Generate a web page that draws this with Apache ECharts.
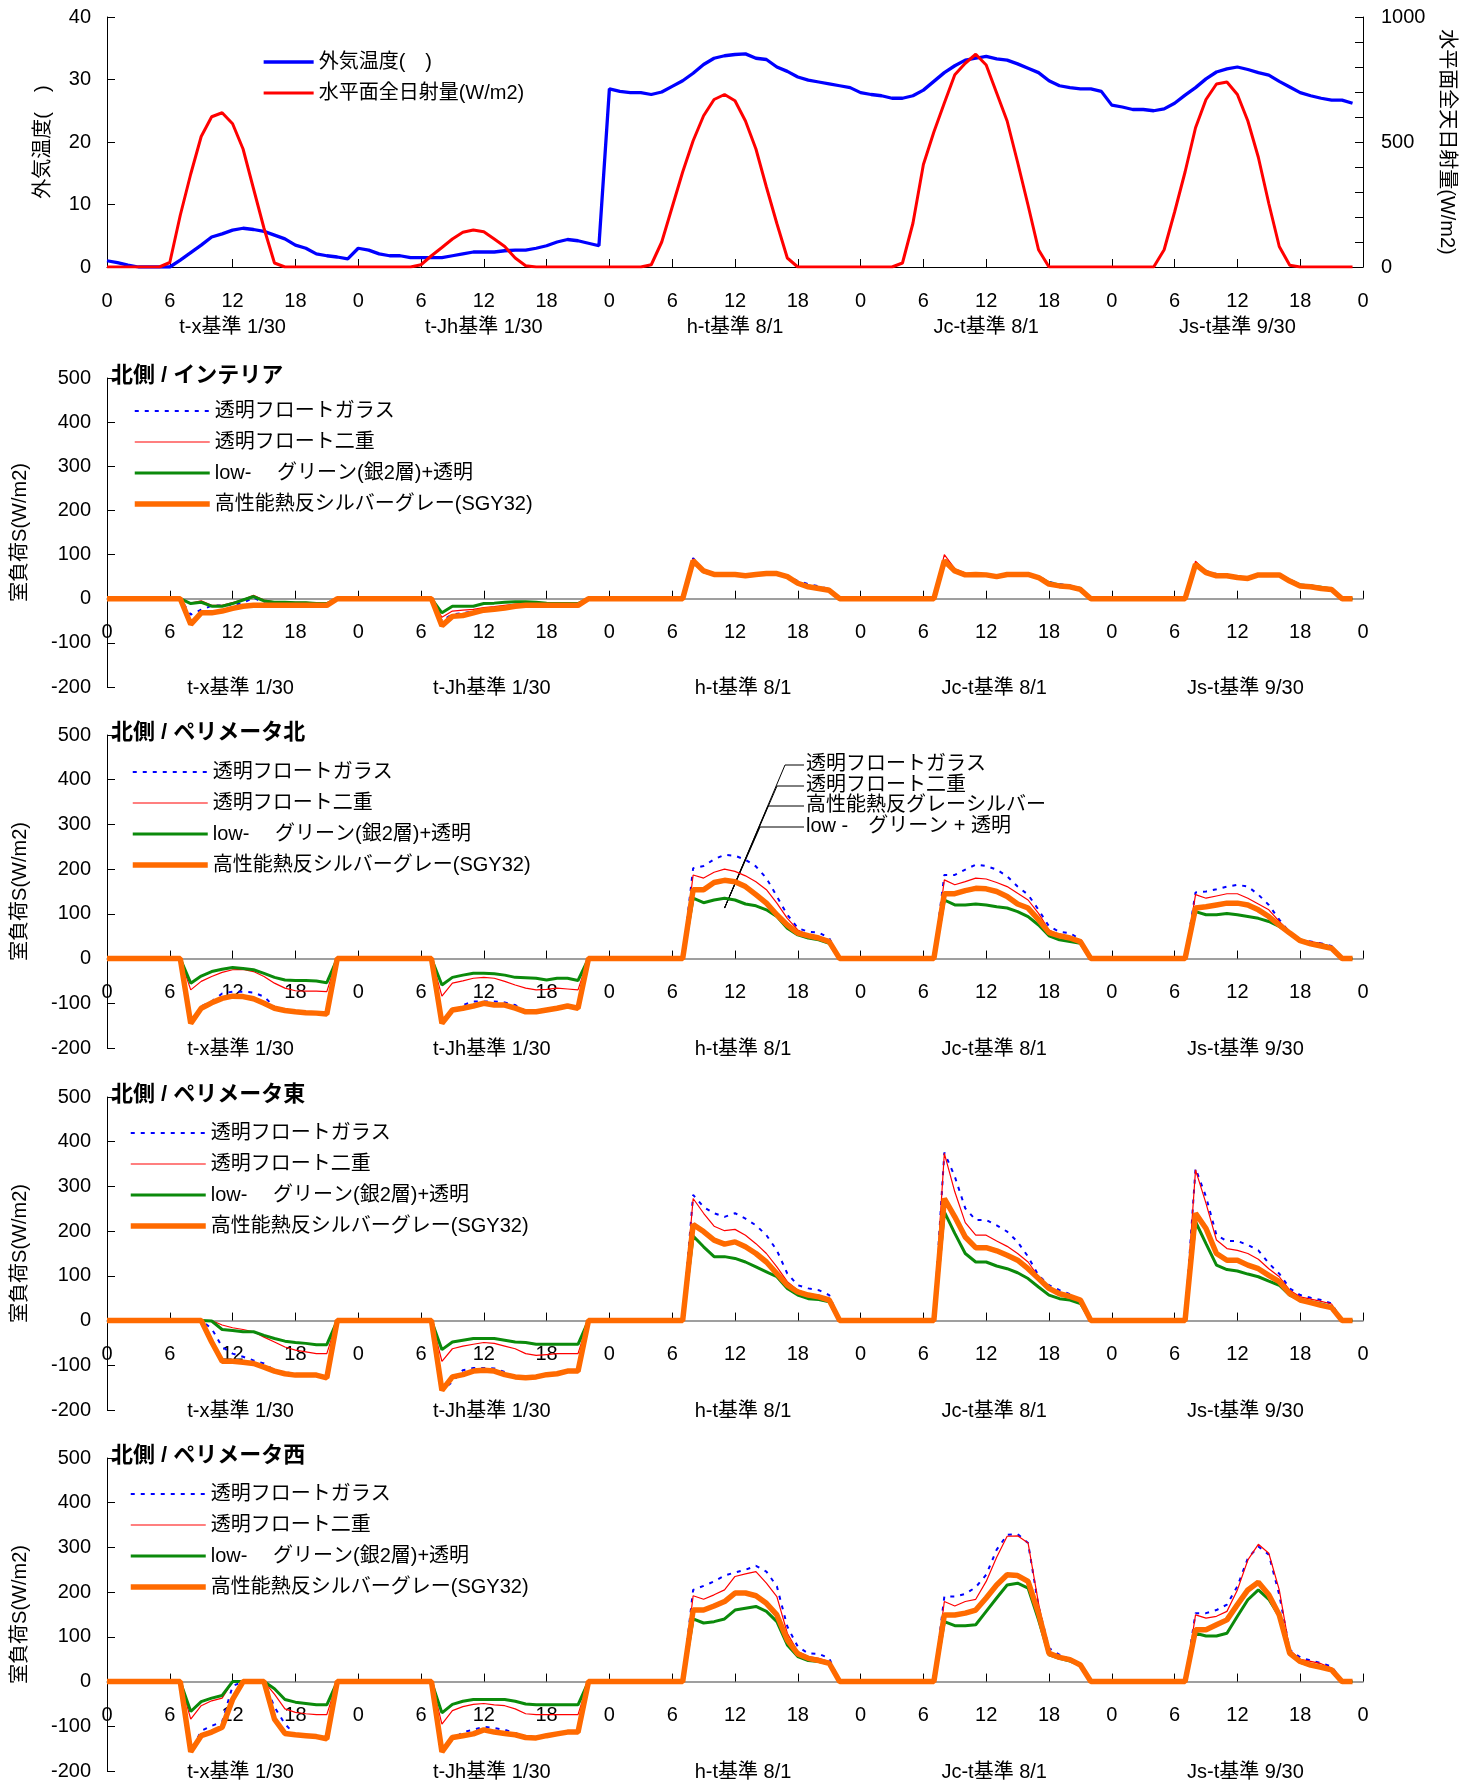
<!DOCTYPE html>
<html><head><meta charset="utf-8">
<script src="https://cdn.jsdelivr.net/npm/echarts@6/dist/echarts.min.js"></script>
<style>html,body{margin:0;padding:0;background:#fff}#c{width:1472px;height:1787px}</style>
</head><body><div id="c"></div>
<script>
// ---------- tick labels / categories ----------
const HOUR_TICK_LABELS = ['0','6','12','18'];
const DAY_LABELS = ['t-x基準 1/30','t-Jh基準 1/30','h-t基準 8/1','Jc-t基準 8/1','Js-t基準 9/30'];
const PANEL_TITLES = ['北側 / インテリア','北側 / ペリメータ北','北側 / ペリメータ東','北側 / ペリメータ西'];
const GLASS_NAMES = ['透明フロートガラス','透明フロート二重','low-　 グリーン(銀2層)+透明','高性能熱反シルバーグレー(SGY32)'];
const TOP_NAMES = ['外気温度(　)','水平面全日射量(W/m2)'];
const ANNOT_LABELS = ['透明フロートガラス','透明フロート二重','高性能熱反グレーシルバー','low -　グリーン + 透明'];

// ---------- top chart ----------
const TEMP = [
 1.0,0.7,0.3,0,0,0,0,1.1,2.3,3.5,4.8,5.3,5.9,6.2,6.0,5.7,5.1,4.5,3.5,3.0,2.1,1.8,1.6,1.3,
 3.0,2.7,2.1,1.8,1.8,1.5,1.5,1.5,1.5,1.8,2.1,2.4,2.4,2.4,2.6,2.7,2.7,3.0,3.4,4.0,4.4,4.2,3.8,3.4,
 28.5,28.1,27.9,27.9,27.6,28.0,28.9,29.8,31.0,32.4,33.4,33.8,34.0,34.1,33.4,33.2,32.0,31.3,30.4,29.9,29.6,29.3,29.0,28.7,
 27.9,27.6,27.4,27.0,27.0,27.4,28.3,29.7,31.1,32.2,33.1,33.4,33.7,33.3,33.1,32.5,31.8,31.1,29.8,29.0,28.7,28.5,28.5,28.1,
 25.9,25.6,25.2,25.2,25.0,25.3,26.2,27.5,28.7,30.1,31.2,31.7,32.0,31.6,31.1,30.7,29.7,28.8,27.9,27.4,27.0,26.7,26.7,26.2
];
const SOLAR = [
 0,0,0,0,0,0,18,207,372,522,601,617,573,472,313,155,16,0,0,0,0,0,0,0,
 0,0,0,0,0,0,9,45,78,112,139,148,141,112,82,36,5,0,0,0,0,0,0,0,
 0,0,0,0,9,100,240,380,505,605,670,690,665,584,472,320,174,36,0,0,0,0,0,0,
 0,0,0,0,16,175,410,540,656,769,815,851,808,696,584,419,247,69,0,0,0,0,0,0,
 0,0,0,0,0,69,220,380,557,670,732,740,690,584,439,254,82,7,0,0,0,0,0,0
];

// ---------- 北側 / インテリア ----------
const INT_CLEAR = [
 0,0,0,0,0,0,0,0,-36,-25,-16,-15,-14,-10,3,-10,-13,-14,-14,-14,-15,-15,0,0,
 0,0,0,0,0,0,0,0,-50,-35,-33,-28,-24,-22,-19,-15,-14,-14,-14,-14,-14,-14,0,0,
 0,0,0,0,0,0,0,0,92,65,57,57,57,53,56,57,57,52,40,33,28,22,0,0,
 0,0,0,0,0,0,0,0,92,66,57,56,55,51,56,56,56,51,38,33,30,24,0,0,
 0,0,0,0,0,0,0,0,82,63,56,53,49,47,55,55,55,43,32,30,26,23,0,0
];
const INT_DOUBLE = [
 0,0,0,0,0,0,0,0,-10,-5,-15,-15,-9,-2,8,-3,-7,-7,-8,-8,-10,-10,0,0,
 0,0,0,0,0,0,0,0,-42,-28,-26,-24,-20,-18,-15,-12,-11,-12,-13,-13,-13,-13,0,0,
 0,0,0,0,0,0,0,0,90,65,57,56,56,53,56,57,57,51,38,30,26,21,0,0,
 0,0,0,0,0,0,0,0,100,68,58,57,56,52,56,56,56,50,36,32,28,23,0,0,
 0,0,0,0,0,0,0,0,85,62,55,53,50,48,55,55,55,42,31,29,25,22,0,0
];
const INT_LOWE = [
 0,0,0,0,0,0,0,0,-11,-8,-17,-17,-11,-3,5,-5,-8,-8,-9,-9,-11,-11,0,0,
 0,0,0,0,0,0,0,0,-32,-17,-17,-17,-11,-10,-8,-7,-7,-8,-10,-11,-11,-11,0,0,
 0,0,0,0,0,0,0,0,84,61,54,54,54,51,54,56,56,49,36,29,25,21,0,0,
 0,0,0,0,0,0,0,0,84,62,55,55,54,51,55,55,55,49,36,31,28,23,0,0,
 0,0,0,0,0,0,0,0,76,58,53,52,49,47,54,54,54,42,31,29,26,22,0,0
];
const INT_SGY = [
 0,0,0,0,0,0,0,0,-58,-32,-32,-28,-22,-17,-15,-15,-15,-15,-15,-15,-15,-15,0,0,
 0,0,0,0,0,0,0,0,-61,-40,-38,-32,-26,-24,-21,-17,-15,-15,-15,-15,-15,-15,0,0,
 0,0,0,0,0,0,0,0,86,63,55,55,55,52,55,57,57,50,35,27,23,19,0,0,
 0,0,0,0,0,0,0,0,86,63,54,55,54,50,55,55,55,48,33,29,27,21,0,0,
 0,0,0,0,0,0,0,0,78,59,52,52,48,46,54,54,54,40,29,27,23,21,0,0
];

// ---------- 北側 / ペリメータ北 ----------
const PN_CLEAR = [
 0,0,0,0,0,0,0,0,-145,-107,-96,-78,-74,-74,-76,-85,-108,-115,-119,-121,-122,-124,0,0,
 0,0,0,0,0,0,0,0,-145,-120,-104,-96,-96,-96,-98,-104,-117,-119,-115,-111,-106,-111,0,0,
 0,0,0,0,0,0,0,0,202,207,222,232,230,221,206,180,139,98,68,60,58,46,0,0,
 0,0,0,0,0,0,0,0,187,187,199,210,207,199,184,161,143,109,72,60,57,43,0,0,
 0,0,0,0,0,0,0,0,148,150,155,161,165,161,143,120,87,58,42,38,34,28,0,0
];
const PN_DOUBLE = [
 0,0,0,0,0,0,0,0,-70,-51,-40,-31,-25,-24,-29,-40,-55,-66,-72,-73,-73,-74,0,0,
 0,0,0,0,0,0,0,0,-84,-55,-50,-44,-42,-44,-51,-59,-66,-70,-69,-66,-68,-70,0,0,
 0,0,0,0,0,0,0,0,187,180,193,200,195,185,172,154,124,90,64,53,49,42,0,0,
 0,0,0,0,0,0,0,0,176,165,172,180,178,170,161,146,131,101,64,53,48,42,0,0,
 0,0,0,0,0,0,0,0,143,135,140,145,145,135,122,109,83,60,42,38,34,27,0,0
];
const PN_LOWE = [
 0,0,0,0,0,0,0,0,-55,-39,-29,-24,-20,-22,-25,-33,-42,-48,-49,-49,-50,-54,0,0,
 0,0,0,0,0,0,0,0,-59,-42,-37,-33,-33,-34,-37,-42,-43,-44,-48,-44,-44,-49,0,0,
 0,0,0,0,0,0,0,0,135,125,131,135,131,122,118,109,94,68,53,46,42,34,0,0,
 0,0,0,0,0,0,0,0,131,120,120,122,120,116,113,105,94,75,51,42,38,34,0,0,
 0,0,0,0,0,0,0,0,105,98,98,101,98,94,90,83,72,57,42,34,31,25,0,0
];
const PN_SGY = [
 0,0,0,0,0,0,0,0,-145,-111,-99,-89,-84,-85,-90,-100,-111,-116,-119,-121,-122,-124,0,0,
 0,0,0,0,0,0,0,0,-145,-115,-111,-106,-100,-104,-104,-111,-119,-119,-115,-111,-106,-111,0,0,
 0,0,0,0,0,0,0,0,154,154,170,175,172,161,143,124,98,75,57,51,46,38,0,0,
 0,0,0,0,0,0,0,0,145,145,152,157,156,150,139,122,113,87,58,51,46,38,0,0,
 0,0,0,0,0,0,0,0,113,116,120,124,124,120,109,94,75,57,40,33,28,23,0,0
];

// ---------- 北側 / ペリメータ東 ----------
const PE_CLEAR = [
 0,0,0,0,0,0,0,0,0,0,-18,-59,-74,-81,-89,-96,-111,-116,-119,-122,-122,-128,0,0,
 0,0,0,0,0,0,0,0,-156,-137,-111,-106,-106,-107,-115,-126,-128,-126,-121,-119,-113,-113,0,0,
 0,0,0,0,0,0,0,0,281,254,240,232,240,228,213,191,157,105,79,72,68,57,0,0,
 0,0,0,0,0,0,0,0,376,322,251,225,225,213,199,176,143,101,79,68,59,42,0,0,
 0,0,0,0,0,0,0,0,340,277,191,178,178,169,157,128,105,72,57,51,46,38,0,0
];
const PE_DOUBLE = [
 0,0,0,0,0,0,0,0,0,0,0,-10,-16,-20,-25,-37,-48,-59,-66,-70,-74,-74,0,0,
 0,0,0,0,0,0,0,0,-91,-63,-57,-53,-49,-51,-57,-63,-74,-78,-76,-74,-74,-74,0,0,
 0,0,0,0,0,0,0,0,273,240,211,201,204,191,172,150,120,87,68,60,57,46,0,0,
 0,0,0,0,0,0,0,0,374,288,219,191,191,178,166,150,131,98,72,60,53,46,0,0,
 0,0,0,0,0,0,0,0,337,262,180,161,157,150,137,116,98,68,53,48,43,37,0,0
];
const PE_LOWE = [
 0,0,0,0,0,0,0,0,0,0,-1,-20,-22,-25,-25,-33,-40,-46,-49,-51,-54,-54,0,0,
 0,0,0,0,0,0,0,0,-65,-48,-44,-40,-40,-40,-44,-48,-49,-53,-53,-53,-53,-53,0,0,
 0,0,0,0,0,0,0,0,189,165,143,143,139,131,120,109,98,72,57,49,47,42,0,0,
 0,0,0,0,0,0,0,0,243,195,150,131,131,122,116,107,94,75,57,49,46,38,0,0,
 0,0,0,0,0,0,0,0,221,172,124,114,111,104,98,88,79,57,46,42,37,31,0,0
];
const PE_SGY = [
 0,0,0,0,0,0,0,0,0,0,-48,-91,-91,-93,-96,-104,-113,-119,-122,-122,-122,-128,0,0,
 0,0,0,0,0,0,0,0,-156,-126,-121,-113,-111,-113,-121,-126,-128,-126,-121,-119,-113,-113,0,0,
 0,0,0,0,0,0,0,0,215,199,180,171,176,165,150,131,105,79,64,57,53,46,0,0,
 0,0,0,0,0,0,0,0,273,232,187,163,163,156,146,135,116,94,72,60,54,46,0,0,
 0,0,0,0,0,0,0,0,240,206,150,135,135,124,116,101,87,60,46,40,34,29,0,0
];

// ---------- 北側 / ペリメータ西 ----------
const PW_CLEAR = [
 0,0,0,0,0,0,0,0,-157,-110,-99,-90,-10,0,0,0,-57,-95,-119,-121,-123,-128,0,0,
 0,0,0,0,0,0,0,0,-157,-130,-113,-108,-101,-104,-108,-115,-125,-126,-121,-117,-113,-113,0,0,
 0,0,0,0,0,0,0,0,205,214,224,237,244,250,259,246,213,123,78,63,62,52,0,0,
 0,0,0,0,0,0,0,0,190,190,196,211,239,295,328,330,310,168,75,60,50,41,0,0,
 0,0,0,0,0,0,0,0,153,153,160,172,213,276,302,284,194,71,54,47,41,34,0,0
];
const PW_DOUBLE = [
 0,0,0,0,0,0,0,0,-84,-54,-43,-37,0,0,0,0,-28,-61,-69,-72,-74,-74,0,0,
 0,0,0,0,0,0,0,0,-95,-65,-56,-51,-49,-52,-54,-61,-72,-74,-74,-74,-74,-74,0,0,
 0,0,0,0,0,0,0,0,192,184,194,205,235,241,246,220,190,108,67,56,52,45,0,0,
 0,0,0,0,0,0,0,0,179,169,179,184,224,278,325,326,310,175,67,57,50,40,0,0,
 0,0,0,0,0,0,0,0,149,142,146,157,205,272,307,287,205,71,50,45,40,30,0,0
];
const PW_LOWE = [
 0,0,0,0,0,0,0,0,-67,-45,-37,-31,0,0,0,0,-16,-40,-46,-49,-52,-52,0,0,
 0,0,0,0,0,0,0,0,-70,-51,-44,-40,-40,-40,-40,-44,-50,-52,-52,-52,-52,-52,0,0,
 0,0,0,0,0,0,0,0,140,131,134,140,160,164,168,157,134,82,56,47,45,40,0,0,
 0,0,0,0,0,0,0,0,134,125,125,127,157,187,216,220,209,138,60,52,46,37,0,0,
 0,0,0,0,0,0,0,0,108,102,102,108,146,183,205,184,146,62,43,36,31,25,0,0
];
const PW_SGY = [
 0,0,0,0,0,0,0,0,-157,-121,-113,-102,-40,0,0,0,-84,-116,-119,-121,-123,-128,0,0,
 0,0,0,0,0,0,0,0,-157,-125,-121,-117,-108,-113,-116,-119,-125,-126,-121,-117,-113,-113,0,0,
 0,0,0,0,0,0,0,0,160,160,169,179,198,198,192,175,149,93,62,52,47,41,0,0,
 0,0,0,0,0,0,0,0,149,149,153,160,187,216,239,237,224,153,63,54,49,37,0,0,
 0,0,0,0,0,0,0,0,116,116,127,138,172,205,222,194,149,63,45,37,32,26,0,0
];

const PANELS = [
  [INT_CLEAR, INT_DOUBLE, INT_LOWE, INT_SGY],
  [PN_CLEAR, PN_DOUBLE, PN_LOWE, PN_SGY],
  [PE_CLEAR, PE_DOUBLE, PE_LOWE, PE_SGY],
  [PW_CLEAR, PW_DOUBLE, PW_LOWE, PW_SGY]
];

// ---------- styling ----------
const FONT = "'Liberation Sans', 'Noto Sans CJK JP', sans-serif";
const GLASS_STYLES = [
  {color:'#0000ff', width:2, type:[4,6]},
  {color:'#ff0000', width:1.2, type:'solid'},
  {color:'#0b8a0b', width:3, type:'solid'},
  {color:'#ff6a00', width:5.5, type:'solid'}
];
const GRID_TOPS = [17, 378, 735, 1097, 1458];
const GRID_HEIGHTS = [250, 309, 313, 313, 313];
const LOAD_MIN = -200, LOAD_MAX = 500;
const LEGEND_POS = [[262,52],[132,401],[130,762],[128,1123],[128,1484]];
const NO_SYMBOL = {color:'rgba(0,0,0,0)', borderColor:'rgba(0,0,0,0)', borderWidth:0};

const chart = echarts.init(document.getElementById('c'), null, {renderer:'canvas'});
const txt = {fontFamily: FONT, fontSize: 20, color: '#000'};
const pairs = arr => arr.map((v, i) => [i, v]);
const dayLabelAt = v => (v % 24 === 12 ? DAY_LABELS[(v - 12) / 24] : '');

const grid = [], xAxis = [], yAxis = [], series = [], legend = [], title = [];
for (let g = 0; g < 5; g++) {
  grid.push({left:107, right:109, top:GRID_TOPS[g], height:GRID_HEIGHTS[g], containLabel:false});
  // hour axis: for load panels it sits on the zero level of the load scale
  const zeroShift = g === 0 ? 0 : -GRID_HEIGHTS[g] * (0 - LOAD_MIN) / (LOAD_MAX - LOAD_MIN);
  xAxis.push({
    type:'value', gridIndex:g, min:0, max:120, interval:6, position:'bottom', offset:zeroShift,
    axisLine:{show:true, onZero:false, lineStyle:{color:g===0?'#000':'#808080', width:g===0?1:1.5}},
    axisTick:{show:true, inside:true, length:8, lineStyle:{color:'#000'}},
    axisLabel:{...txt, margin:24, formatter:v => HOUR_TICK_LABELS[(v % 24) / 6]},
    splitLine:{show:false}
  });
  xAxis.push({
    type:'value', gridIndex:g, min:0, max:120, interval:12, position:'bottom',
    axisLine:{show:false, onZero:false}, axisTick:{show:false}, splitLine:{show:false},
    axisLabel:{...txt, margin:g===0?50:-9, padding:g===0?[0,0,0,0]:[0,0,0,16], formatter:dayLabelAt}
  });
}
yAxis.push({
  type:'value', gridIndex:0, min:0, max:40, interval:10, position:'left',
  name:TOP_NAMES[0], nameLocation:'middle', nameRotate:90, nameGap:54, nameTextStyle:{...txt},
  axisLine:{show:true, onZero:false, lineStyle:{color:'#000'}},
  axisTick:{show:true, inside:true, length:8, lineStyle:{color:'#000'}},
  axisLabel:{...txt, margin:16}, splitLine:{show:false}
});
yAxis.push({
  type:'value', gridIndex:0, min:0, max:1000, interval:100, position:'right',
  name:'水平面全天日射量(W/m2)', nameLocation:'middle', nameRotate:-90, nameGap:68, nameTextStyle:{...txt},
  axisLine:{show:true, onZero:false, lineStyle:{color:'#000'}},
  axisTick:{show:true, inside:true, length:8, lineStyle:{color:'#000'}},
  axisLabel:{...txt, margin:18, formatter:v => (v % 500 === 0 ? String(v) : '')}, splitLine:{show:false}
});
for (let p = 0; p < 4; p++) {
  yAxis.push({
    type:'value', gridIndex:p+1, min:LOAD_MIN, max:LOAD_MAX, interval:100, position:'left',
    name:'室負荷S(W/m2)', nameLocation:'middle', nameRotate:90, nameGap:77, nameTextStyle:{...txt},
    axisLine:{show:true, onZero:false, lineStyle:{color:'#000'}},
    axisTick:{show:true, inside:true, length:8, lineStyle:{color:'#000'}},
    axisLabel:{...txt, margin:16}, splitLine:{show:false}
  });
}

series.push({type:'line', name:TOP_NAMES[0], xAxisIndex:0, yAxisIndex:0, data:pairs(TEMP),
  symbol:'none', lineStyle:{color:'#0000ff', width:3.3}, itemStyle:{color:'#0000ff'}, z:2});
series.push({type:'line', name:TOP_NAMES[1], xAxisIndex:0, yAxisIndex:1, data:pairs(SOLAR),
  symbol:'none', lineStyle:{color:'#ff0000', width:3}, itemStyle:{color:'#ff0000'}, z:3});
legend.push({
  left:LEGEND_POS[0][0], top:LEGEND_POS[0][1], orient:'vertical', padding:0, itemGap:11,
  itemWidth:50, itemHeight:14, textStyle:{...txt}, selectedMode:false,
  data:[{name:TOP_NAMES[0], itemStyle:NO_SYMBOL, lineStyle:{color:'#0000ff', width:3.3, type:'solid'}},
        {name:TOP_NAMES[1], itemStyle:NO_SYMBOL, lineStyle:{color:'#ff0000', width:3, type:'solid'}}]
});

for (let p = 0; p < 4; p++) {
  PANELS[p].forEach((arr, k) => {
    const st = GLASS_STYLES[k];
    series.push({type:'line', name:GLASS_NAMES[k], xAxisIndex:(p+1)*2, yAxisIndex:p+2,
      data:pairs(arr), symbol:'none', lineStyle:{color:st.color, width:st.width, type:st.type},
      itemStyle:{color:st.color}, z:2+k});
  });
  legend.push({
    left:LEGEND_POS[p+1][0], top:LEGEND_POS[p+1][1], orient:'vertical', padding:0, itemGap:11,
    itemWidth:75, itemHeight:14, textStyle:{...txt}, selectedMode:false,
    data:GLASS_NAMES.map((n, k) => ({name:n, itemStyle:NO_SYMBOL,
      lineStyle:{color:GLASS_STYLES[k].color, width:GLASS_STYLES[k].width, type:GLASS_STYLES[k].type}}))
  });
  title.push({text:PANEL_TITLES[p], left:111, top:GRID_TOPS[p+1]-13, padding:0,
    textStyle:{fontFamily:FONT, fontSize:22, fontWeight:'bold', color:'#000'}});
}

chart.setOption({
  animation:false, backgroundColor:'#fff', textStyle:{fontFamily:FONT},
  grid, xAxis, yAxis, series, legend, title
});

// annotation (leader lines in ペリメータ北 panel) anchored to a data point
const anchor = chart.convertToPixel({xAxisIndex:4, yAxisIndex:3}, [59, 113]);
const rowsY = [765, 786, 806, 827];
const rowsX0 = [785, 777, 768, 760];
const gfx = [];
ANNOT_LABELS.forEach((t, i) => {
  gfx.push({type:'text', left:806, top:rowsY[i]-11, style:{text:t, font:"20px " + FONT, fill:'#000'}});
  gfx.push({type:'polyline', shape:{points:[[804, rowsY[i]], [rowsX0[i], rowsY[i]], anchor]},
    style:{stroke:'#000', lineWidth:1, fill:null}});
});
chart.setOption({graphic:gfx});
</script>
</body></html>
